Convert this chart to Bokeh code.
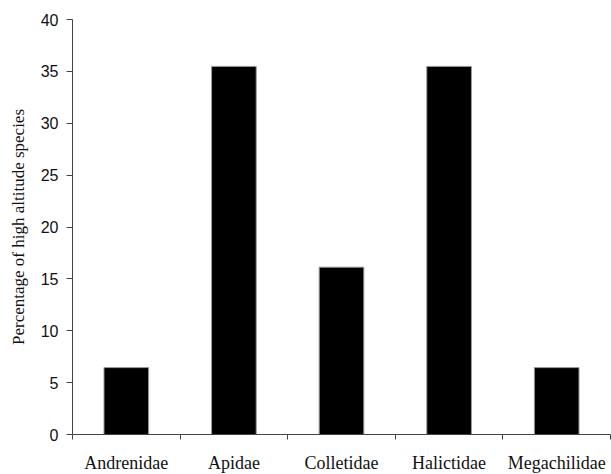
from bokeh.plotting import figure
from bokeh.models import FixedTicker, Range1d, ColumnDataSource, CustomJSTickFormatter
from bokeh.embed import file_html
from bokeh.resources import INLINE

# Data
families = ["Andrenidae", "Apidae", "Colletidae", "Halictidae", "Megachilidae"]
percent = [6.45, 35.48, 16.13, 35.48, 6.45]
y_ticks = [0, 5, 10, 15, 20, 25, 30, 35, 40]
y_title = "Percentage of high altitude species"

x_pos = [i + 0.5 for i in range(len(families))]
source = ColumnDataSource(dict(x=x_pos, top=percent, family=families))

p = figure(frame_width=538, frame_height=415,
           x_range=Range1d(0, len(families)), y_range=Range1d(0, 40),
           output_backend="svg", toolbar_location=None,
           min_border_left=72, min_border_right=1, min_border_top=19, min_border_bottom=40)

p.vbar(x="x", top="top", bottom=0, width=0.415, source=source,
       fill_color="black", line_color="#9a9a9a", line_width=1)

p.outline_line_color = None
p.xgrid.grid_line_color = None
p.ygrid.grid_line_color = None
p.background_fill_color = "white"
p.border_fill_color = "white"

axis_col = "#444444"
text_col = "#111111"

# X axis: labels at centers, ticks at category boundaries (minor ticks)
xa = p.xaxis[0]
xa.ticker = FixedTicker(ticks=x_pos, minor_ticks=list(range(len(families) + 1)))
xa.formatter = CustomJSTickFormatter(args=dict(names=families),
                                     code="const i = Math.floor(tick); return (i >= 0 && i < names.length) ? names[i] : '';")
xa.major_tick_out = 0
xa.major_tick_in = 0
xa.minor_tick_out = 5
xa.minor_tick_in = 0
xa.minor_tick_line_color = axis_col
xa.axis_line_color = axis_col
xa.major_label_text_font = "Liberation Serif"
xa.major_label_text_font_size = "18px"
xa.major_label_text_color = text_col
xa.major_label_standoff = 13

# Y axis
ya = p.yaxis[0]
ya.ticker = FixedTicker(ticks=y_ticks)
ya.major_tick_out = 6
ya.major_tick_in = 0
ya.minor_tick_out = 0
ya.minor_tick_in = 0
ya.axis_line_color = axis_col
ya.major_tick_line_color = axis_col
ya.major_label_text_font = "Liberation Sans"
ya.major_label_text_font_size = "16px"
ya.major_label_text_color = text_col
ya.major_label_standoff = 8
ya.axis_label = y_title
ya.axis_label_text_font = "Liberation Serif"
ya.axis_label_text_font_size = "17px"
ya.axis_label_text_font_style = "normal"
ya.axis_label_text_color = text_col
ya.axis_label_standoff = 10

open("out.html", "w").write(file_html(p, INLINE))
